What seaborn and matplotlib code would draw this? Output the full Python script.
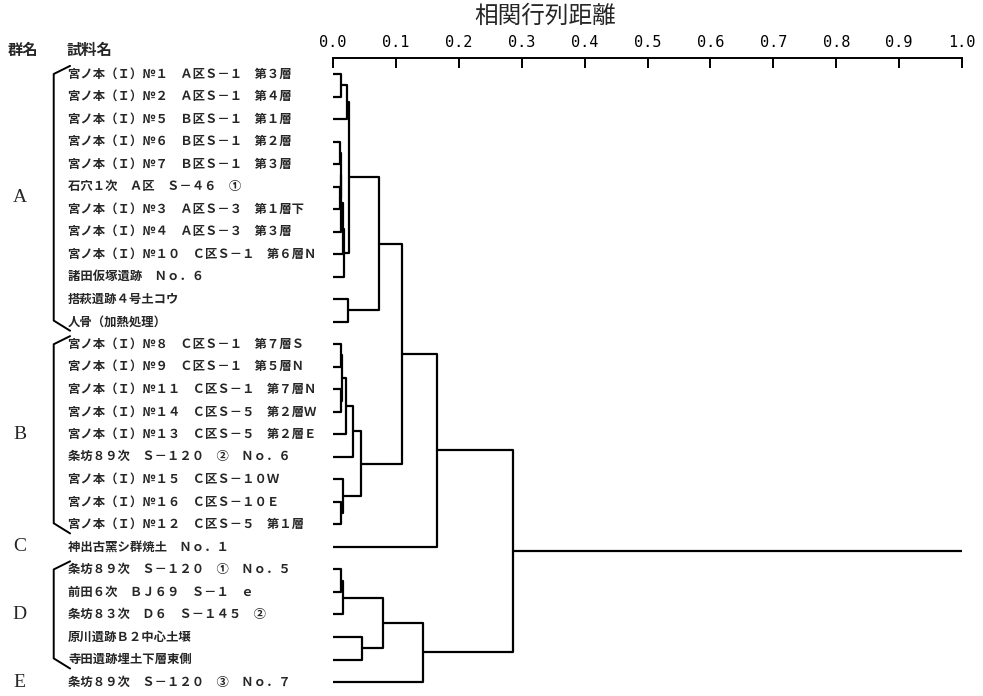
import numpy as np
import pandas as pd
import seaborn as sns
import matplotlib.pyplot as plt

# ---- data ----
sample_names = [
    "宮ノ本（Ｉ）№１　Ａ区Ｓ－１　第３層",
    "宮ノ本（Ｉ）№２　Ａ区Ｓ－１　第４層",
    "宮ノ本（Ｉ）№５　Ｂ区Ｓ－１　第１層",
    "宮ノ本（Ｉ）№６　Ｂ区Ｓ－１　第２層",
    "宮ノ本（Ｉ）№７　Ｂ区Ｓ－１　第３層",
    "石穴１次　Ａ区　Ｓ－４６　①",
    "宮ノ本（Ｉ）№３　Ａ区Ｓ－３　第１層下",
    "宮ノ本（Ｉ）№４　Ａ区Ｓ－３　第３層",
    "宮ノ本（Ｉ）№１０　Ｃ区Ｓ－１　第６層Ｎ",
    "諸田仮塚遺跡　Ｎｏ．６",
    "搭萩遺跡４号土コウ",
    "人骨（加熱処理）",
    "宮ノ本（Ｉ）№８　Ｃ区Ｓ－１　第７層Ｓ",
    "宮ノ本（Ｉ）№９　Ｃ区Ｓ－１　第５層Ｎ",
    "宮ノ本（Ｉ）№１１　Ｃ区Ｓ－１　第７層Ｎ",
    "宮ノ本（Ｉ）№１４　Ｃ区Ｓ－５　第２層Ｗ",
    "宮ノ本（Ｉ）№１３　Ｃ区Ｓ－５　第２層Ｅ",
    "条坊８９次　Ｓ－１２０　②　Ｎｏ．６",
    "宮ノ本（Ｉ）№１５　Ｃ区Ｓ－１０Ｗ",
    "宮ノ本（Ｉ）№１６　Ｃ区Ｓ－１０Ｅ",
    "宮ノ本（Ｉ）№１２　Ｃ区Ｓ－５　第１層",
    "神出古窯シ群焼土　Ｎｏ．１",
    "条坊８９次　Ｓ－１２０　①　Ｎｏ．５",
    "前田６次　ＢＪ６９　Ｓ－１　ｅ",
    "条坊８３次　Ｄ６　Ｓ－１４５　②",
    "原川遺跡Ｂ２中心土壌",
    "寺田遺跡埋土下層東側",
    "条坊８９次　Ｓ－１２０　③　Ｎｏ．７",
]

group_names = ["A", "B", "C", "D", "E"]
group_first = [0, 12, 21, 22, 27]
group_last = [11, 20, 21, 26, 27]

# merges: ids < 28 are samples, id 28+k is the k-th merge
merge_left = [0, 28, 3, 5, 30, 32, 33, 34, 29, 10, 36,
              12, 14, 39, 41, 42, 19, 18, 43, 38, 47,
              22, 49, 25, 50, 52, 48]
merge_right = [1, 2, 4, 6, 31, 7, 8, 9, 35, 11, 37,
               13, 15, 40, 16, 17, 20, 44, 45, 46, 21,
               23, 24, 26, 51, 27, 53]
merge_height = [0.012, 0.022, 0.011, 0.011, 0.012, 0.013, 0.016, 0.018, 0.026, 0.024, 0.073,
                0.012, 0.012, 0.014, 0.021, 0.032, 0.013, 0.016, 0.045, 0.110, 0.165,
                0.012, 0.016, 0.046, 0.080, 0.143, 0.286]
tail_end = 1.0

x_ticks = [0.0, 0.1, 0.2, 0.3, 0.4, 0.5, 0.6, 0.7, 0.8, 0.9, 1.0]

# ---- dendrogram segments ----
n = len(sample_names)
node_x = [0.0] * n
node_y = [float(i) for i in range(n)]
rows = []
for k, (a, b, h) in enumerate(zip(merge_left, merge_right, merge_height)):
    pts = [(node_x[a], node_y[a]), (h, node_y[a]), (h, node_y[b]), (node_x[b], node_y[b])]
    for x, y in pts:
        rows.append({"x": x, "y": y, "seg": k})
    node_x.append(h)
    node_y.append((node_y[a] + node_y[b]) / 2)
rows.append({"x": node_x[-1], "y": node_y[-1], "seg": len(merge_height)})
rows.append({"x": tail_end, "y": node_y[-1], "seg": len(merge_height)})
seg_df = pd.DataFrame(rows)

# ---- plot ----
sns.set_style("white")
plt.rcParams["font.family"] = ["Noto Sans CJK JP", "DejaVu Sans"]

fig = plt.figure(figsize=(9.83, 6.96), dpi=100)
ax = fig.add_axes([333 / 983, 0.0, 629 / 983, 1 - 58 / 696])

sns.lineplot(data=seg_df, x="x", y="y", units="seg", estimator=None, sort=False,
             color="black", linewidth=1.6, ax=ax, legend=False)

ax.set_xlim(0, 1)
ax.set_ylim(n - 1 + 0.62, -0.71)
for side in ["left", "right", "bottom"]:
    ax.spines[side].set_visible(False)
ax.spines["top"].set_linewidth(1.4)
ax.spines["top"].set_color("black")
ax.xaxis.tick_top()
ax.set_xticks(x_ticks)
ax.set_xticklabels([f"{t:.1f}" for t in x_ticks], family="DejaVu Sans Mono", fontsize=11)
ax.tick_params(axis="x", direction="in", length=7, width=1.4, pad=6, colors="black")
ax.set_yticks([])
ax.set_xlabel("")
ax.set_ylabel("")

# sample labels
lab_x = -0.421
for i, name in enumerate(sample_names):
    ax.text(lab_x, i, name, ha="left", va="center", fontsize=8.9, fontweight="bold")

# group letters and brackets
for g, f, l in zip(group_names, group_first, group_last):
    ax.text(-0.498, (f + l) / 2, g, ha="center", va="center", fontsize=14,
            family="Liberation Serif")
    if l > f:
        ax.plot([-0.418, -0.444, -0.444, -0.418], [f - 0.36, f, l - 0.05, l + 0.4],
                color="black", lw=1.4, clip_on=False)

ax.text(-0.517, -1.07, "群名", ha="left", va="center", fontsize=11, fontweight="bold")
ax.text(-0.423, -1.07, "試料名", ha="left", va="center", fontsize=11, fontweight="bold")
fig.text(545 / 983, 1 - 16 / 696, "相関行列距離", ha="center", va="center", fontsize=17)

fig.savefig("out.png", dpi=100)
